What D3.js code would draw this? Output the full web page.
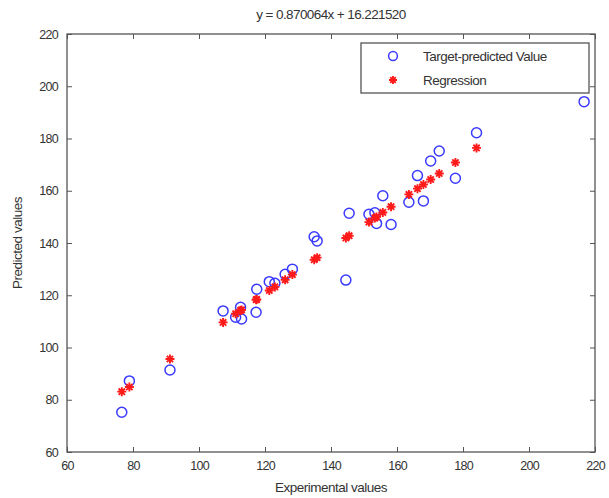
<!DOCTYPE html>
<html>
<head>
<meta charset="utf-8">
<script src="https://cdn.jsdelivr.net/npm/d3@7"></script>
<style>
  body { margin: 0; background: #fff; }
  text { font-family: "Liberation Sans", Arial, sans-serif; fill: #333; }
</style>
</head>
<body>
<script>
// Chart data.
var experimental = [76.6, 78.9, 91.2, 107.3, 111.1, 112.6, 112.9, 117.5, 117.3, 121.3,
                    123.0, 126.1, 128.3, 134.9, 135.8, 144.5, 145.5, 151.5, 153.3, 153.8,
                    155.7, 158.2, 163.6, 166.2, 168.0, 170.2, 172.8, 177.7, 184.1, 216.7];
var predicted    = [75.2, 87.2, 91.4, 114.0, 111.6, 115.4, 110.9, 122.3, 113.5, 125.2,
                    124.6, 128.0, 130.0, 142.4, 140.8, 125.8, 151.4, 151.0, 151.6, 147.5,
                    158.1, 147.1, 155.6, 165.8, 156.1, 171.4, 175.2, 164.8, 182.2, 194.1];
var regression   = [83.1, 84.9, 95.6, 109.6, 112.9, 114.2, 114.4, 118.4, 118.3, 121.8,
                    123.2, 125.9, 127.9, 133.6, 134.4, 141.9, 142.8, 148.0, 149.6, 150.0,
                    151.7, 153.9, 158.6, 160.8, 162.4, 164.3, 166.6, 170.8, 176.4, 204.8];
var xTicks = [60, 80, 100, 120, 140, 160, 180, 200, 220];
var yTicks = [60, 80, 100, 120, 140, 160, 180, 200, 220];
var titleText = "y = 0.870064x + 16.221520";
var legendLabels = ["Target-predicted Value", "Regression"];

// Canvas and plot box.
var width   = 609,
    height  = 498,
    boxL    = 67,
    boxR    = 595,
    boxT    = 34,
    boxB    = 452;

var svg = d3.select("body")
    .append("svg")
    .attr("width", width)
    .attr("height", height);

var x = d3.scaleLinear().domain([60, 220]).range([boxL, boxR]);
var y = d3.scaleLinear().domain([60, 220]).range([boxB, boxT]);

var axisColor = "#555";

// Axes with inward ticks on all four sides.
function styleAxis(g) {
    g.select(".domain").remove();
    g.selectAll(".tick line").attr("stroke", axisColor);
    g.selectAll(".tick text")
        .attr("font-size", "12.5px")
        .attr("letter-spacing", "-0.7px")
        .style("fill", "#333");
}

svg.append("g")
    .attr("transform", "translate(0," + boxB + ")")
    .call(d3.axisBottom(x).tickValues(xTicks).tickSize(-5).tickPadding(9).tickFormat(d3.format("d")))
    .call(styleAxis);

svg.append("g")
    .attr("transform", "translate(0," + boxT + ")")
    .call(d3.axisTop(x).tickValues(xTicks).tickSize(-5).tickFormat(""))
    .call(styleAxis);

svg.append("g")
    .attr("transform", "translate(" + boxL + ",0)")
    .call(d3.axisLeft(y).tickValues(yTicks).tickSize(-5).tickPadding(9).tickFormat(d3.format("d")))
    .call(styleAxis);

svg.append("g")
    .attr("transform", "translate(" + boxR + ",0)")
    .call(d3.axisRight(y).tickValues(yTicks).tickSize(-5).tickFormat(""))
    .call(styleAxis);

// Box.
svg.append("rect")
    .attr("x", boxL)
    .attr("y", boxT)
    .attr("width", boxR - boxL)
    .attr("height", boxB - boxT)
    .attr("fill", "none")
    .attr("stroke", axisColor)
    .attr("stroke-width", 1.3);

// Asterisk marker path.
function star(s) {
    var d = s * 0.7;
    return "M" + (-s) + ",0L" + s + ",0M0," + (-s) + "L0," + s +
           "M" + (-d) + "," + (-d) + "L" + d + "," + d +
           "M" + (-d) + "," + d + "L" + d + "," + (-d);
}

// Blue circles.
svg.selectAll("circle.pred")
    .data(experimental)
  .enter()
    .append("circle")
    .attr("class", "pred")
    .attr("cx", function(d) { return x(d); })
    .attr("cy", function(d, i) { return y(predicted[i]); })
    .attr("r", 5)
    .attr("fill", "none")
    .attr("stroke", "#3a3aff")
    .attr("stroke-width", 1.5);

// Red regression stars.
svg.selectAll("path.reg")
    .data(experimental)
  .enter()
    .append("path")
    .attr("class", "reg")
    .attr("transform", function(d, i) { return "translate(" + x(d) + "," + y(regression[i]) + ")"; })
    .attr("d", star(4.5))
    .attr("stroke", "#ff1a1a")
    .attr("stroke-width", 1.9);

// Legend (opaque, covers points beneath).
var legend = svg.append("g");
legend.append("rect")
    .attr("x", 361)
    .attr("y", 43)
    .attr("width", 228)
    .attr("height", 50)
    .attr("fill", "#fff")
    .attr("stroke", axisColor)
    .attr("stroke-width", 1.3);
legend.append("circle")
    .attr("cx", 393)
    .attr("cy", 56)
    .attr("r", 4.4)
    .attr("fill", "none")
    .attr("stroke", "#3a3aff")
    .attr("stroke-width", 1.5);
legend.append("path")
    .attr("transform", "translate(393,80)")
    .attr("d", star(4))
    .attr("stroke", "#ff1a1a")
    .attr("stroke-width", 1.9);
legend.selectAll("text")
    .data(legendLabels)
  .enter()
    .append("text")
    .attr("x", 423)
    .attr("y", function(d, i) { return 60.5 + i * 24.5; })
    .attr("font-size", "13.5px")
    .attr("letter-spacing", "-0.5px")
    .text(function(d) { return d; });

// Title and axis labels.
svg.append("text")
    .attr("x", 331)
    .attr("y", 19)
    .attr("text-anchor", "middle")
    .attr("font-size", "13.5px")
    .attr("letter-spacing", "-0.6px")
    .text(titleText);

svg.append("text")
    .attr("x", 331)
    .attr("y", 492)
    .attr("text-anchor", "middle")
    .attr("font-size", "13.5px")
    .attr("letter-spacing", "-0.5px")
    .text("Experimental values");

svg.append("text")
    .attr("transform", "translate(22," + ((boxT + boxB) / 2) + ") rotate(-90)")
    .attr("text-anchor", "middle")
    .attr("font-size", "13.5px")
    .attr("letter-spacing", "-0.5px")
    .text("Predicted values");
</script>
</body>
</html>
